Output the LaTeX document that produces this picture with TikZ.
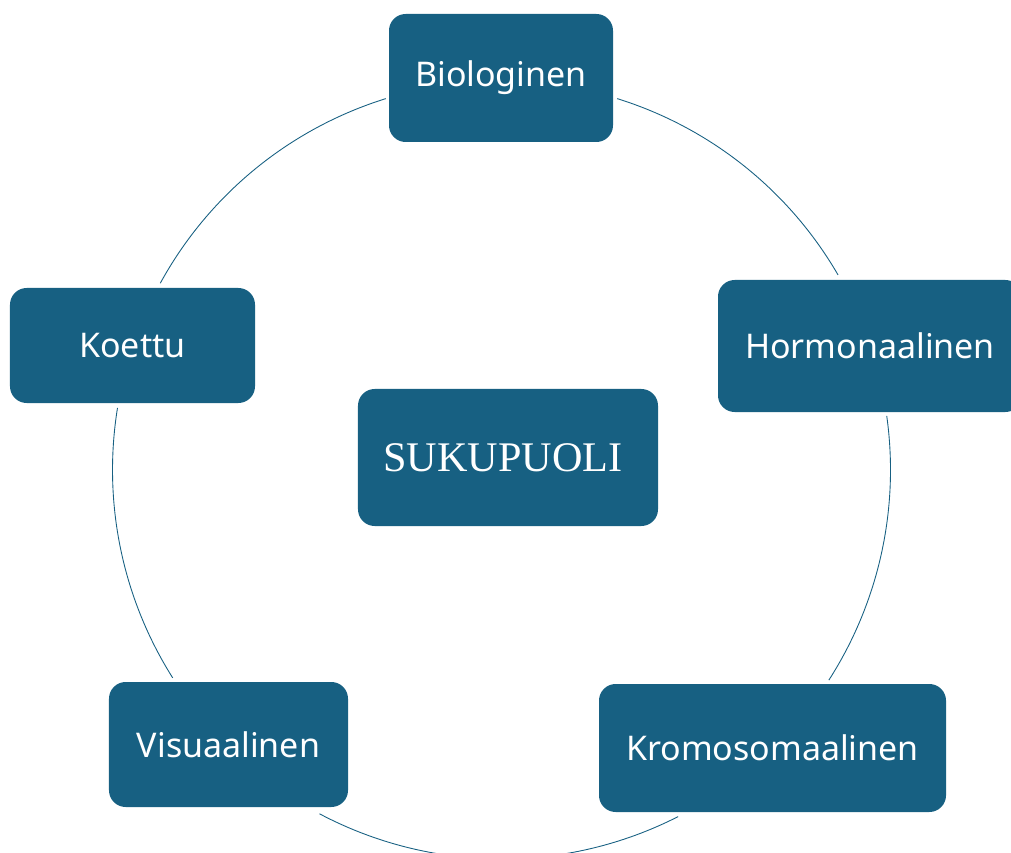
\documentclass[tikz,border=0pt]{standalone}
\usepackage{fontspec}
\setmainfont{Liberation Serif}
\setsansfont{Noto Sans}
\definecolor{boxblue}{RGB}{23,96,130}

\begin{document}
\begin{tikzpicture}[x=0.03cm,y=-0.03cm,
  box/.style={rectangle,rounded corners=0.5cm,fill=boxblue,text=white,inner sep=0pt,
    font=\sffamily\fontsize{29}{33}\selectfont},
  ring/.style={draw=boxblue,line width=0.75pt}]
  \clip (0,0) rectangle (1011,853);
  \coordinate (c) at (501.5,470);

  \node[box,minimum width=6.72cm,minimum height=3.84cm] (bio) at (501,78) {Biologinen};
  \node[box,minimum width=9.12cm,minimum height=3.96cm] (horm) at (870,346) {Hormonaalinen};
  \node[box,minimum width=10.41cm,minimum height=3.84cm] (krom) at (772.5,748) {Kromosomaalinen};
  \node[box,minimum width=7.17cm,minimum height=3.75cm] (vis) at (228.5,744.5) {Visuaalinen};
  \node[box,minimum width=7.35cm,minimum height=3.45cm] (koe) at (132.5,345.5) {Koettu};
  % keskus
  \node[box,minimum width=9cm,minimum height=4.11cm,font=\rmfamily\fontsize{36}{40}\selectfont]
    (suku) at (508,457.5) {\hspace*{-0.3cm}SUKUPUOLI};

  \path[ring]
    (c) ++(-72.7:389) arc[start angle=-72.7,end angle=-30.1,radius=389]
    (c) ++(-8.0:389) arc[start angle=-8.0,end angle=32.7,radius=389]
    (c) ++(63.0:389) arc[start angle=63.0,end angle=117.9,radius=389]
    (c) ++(147.7:389) arc[start angle=147.7,end angle=189.2,radius=389]
    (c) ++(-151.3:389) arc[start angle=-151.3,end angle=-107.3,radius=389];
\end{tikzpicture}
\end{document}
